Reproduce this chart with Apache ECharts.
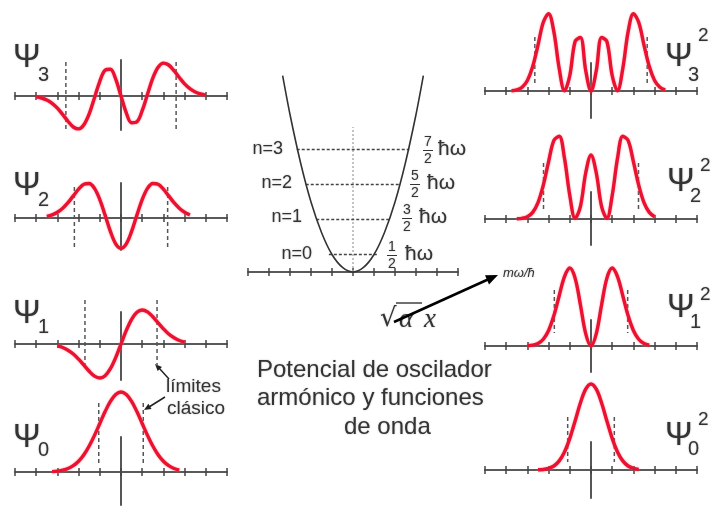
<!DOCTYPE html>
<html>
<head>
<meta charset="utf-8">
<script src="https://cdn.jsdelivr.net/npm/echarts@6/dist/echarts.min.js"></script>
<style>
html, body { margin: 0; padding: 0; background: #fff; }
#main { width: 715px; height: 507px; }
</style>
</head>
<body>
<div id="main"></div>
<script>
// x positions shared by all wave curves (units of sqrt(alpha) x)
var xs = [-4,-3.75,-3.5,-3.25,-3,-2.75,-2.5,-2.25,-2,-1.75,-1.5,-1.25,-1,-0.75,-0.5,-0.25,0,
          0.25,0.5,0.75,1,1.25,1.5,1.75,2,2.25,2.5,2.75,3,3.25,3.5,3.75,4];

// wave functions (pixel heights above the axis)
var psi3 = [-0.9,-2.0,-4.0,-7.3,-12.1,-18.5,-25.3,-31.0,-32.9,-28.7,-17.8,-1.7,14.7,25.8,26.8,16.9,0,
            -16.9,-26.8,-25.8,-14.7,1.7,17.8,28.7,32.9,31.0,25.3,18.5,12.1,7.3,4.0,2.0,0.9];
var psi2 = [null,null,1.6,3.1,5.7,9.8,15.3,22.1,28.8,33.7,34.5,29.6,18.4,2.9,-13.4,-25.8,-30.4,
            -25.8,-13.4,2.9,18.4,29.6,34.5,33.7,28.8,22.1,15.3,9.8,5.7,3.1,null,null,null];
var psi1 = [null,null,null,null,-1.9,-3.5,-6.2,-10.0,-15.2,-21.2,-27.3,-32.1,-34.0,-31.7,-24.7,-13.6,0,
            13.6,24.7,31.7,34.0,32.1,27.3,21.2,15.2,10.0,6.2,3.5,1.9,null,null,null,null];
var psi0 = [null,null,null,0.4,0.9,1.8,3.5,6.4,10.8,17.3,26.0,36.6,48.5,60.4,70.6,77.5,80,
            77.5,70.6,60.4,48.5,36.6,26.0,17.3,10.8,6.4,3.5,1.8,null,null,null,null,null];

// probability densities
var psi3sq = [null,0.3,1.1,3.8,10.5,24.4,45.9,68.7,77.3,59.1,22.5,0.2,15.5,49.5,53.5,20.5,0,
              20.5,53.5,49.5,15.5,0.2,22.5,59.1,77.3,68.7,45.9,24.4,10.5,3.8,1.1,null,null];
var psi2sq = [null,null,0.2,0.7,2.3,6.6,16.3,33.8,57.4,78.6,82.7,60.6,23.5,0.6,12.4,46.0,64,
              46.0,12.4,0.6,23.5,60.6,82.7,78.6,57.4,33.8,16.3,6.6,2.3,null,null,null,null];
var psi1sq = [null,null,null,null,0.2,0.8,2.5,6.8,15.5,30.4,50.3,69.4,78.0,67.9,41.3,12.4,0,
              12.4,41.3,67.9,78.0,69.4,50.3,30.4,15.5,6.8,2.5,0.8,null,null,null,null,null];
var psi0sq = [null,null,null,null,null,null,0.2,0.5,1.6,4.0,9.1,18.0,31.6,49.0,67.0,80.8,86,
              80.8,67.0,49.0,31.6,18.0,9.1,4.0,1.6,0.5,null,null,null,null,null,null,null];

// classical turning points and the extent of their dashed markers
var leftLimits  = [2.6, 2.2, 1.7, 1.05];
var leftLimTop  = [34, 31, 44, 69];
var leftLimBot  = [-34, -32, -22, 7];
var rightLimits = [2.65, 2.24, 1.73, 1.1];
var rightLimTop = [54, 56, 56, 53];
var rightLimBot = [6, 9, 13, 8];

// potential well
var potX = [-3.35,-3,-2.5,-2,-1.5,-1,-0.5,0,0.5,1,1.5,2,2.5,3,3.35];
var potY = [5.61,4.5,3.13,2,1.13,0.5,0.13,0,0.13,0.5,1.13,2,3.13,4.5,5.61];
var levelE = [0.5, 1.5, 2.5, 3.5];
var levelHalf = [1.15, 1.75, 2.25, 2.68];
var levelNames = ['n=0', 'n=1', 'n=2', 'n=3'];
var levelNum = ['1', '3', '5', '7'];
var centerDotTop = 4.14;

var RED = '#ea1230';
var AX = '#505050';

var chart = echarts.init(document.getElementById('main'));

// grid layout: axis at y = top + yMax
var panels = [
    {data: psi3, left: 15, top: 60, yMin: -34, yMax: 36, lim: 0, side: 'L'},
    {data: psi2, left: 15, top: 183, yMin: -32, yMax: 35, lim: 1, side: 'L'},
    {data: psi1, left: 15, top: 312, yMin: -36, yMax: 32, lim: 2, side: 'L'},
    {data: psi0, left: 15, top: 437, yMin: -33, yMax: 35, lim: 3, side: 'L'},
    {data: psi3sq, left: 485, top: 63, yMin: -27, yMax: 28, lim: 0, side: 'R'},
    {data: psi2sq, left: 485, top: 192, yMin: -26, yMax: 27, lim: 1, side: 'R'},
    {data: psi1sq, left: 485, top: 320, yMin: -26, yMax: 26, lim: 2, side: 'R'},
    {data: psi0sq, left: 485, top: 442, yMin: -28, yMax: 28, lim: 3, side: 'R'}
];

var grids = [], xAxes = [], yAxes = [], series = [];

function addAxes(i, left, top, width, height, yMin, yMax, showY) {
    grids.push({left: left, top: top, width: width, height: height});
    ['bottom', 'top'].forEach(function (pos) {
        xAxes.push({
            gridIndex: i, type: 'value', min: -5, max: 5, interval: 1, position: pos,
            axisLine: {onZero: true, onZeroAxisIndex: i, lineStyle: {color: AX, width: 1.6}},
            axisTick: {show: true, length: 4, lineStyle: {color: '#444', width: 1.5}},
            axisLabel: {show: false}, splitLine: {show: false}
        });
    });
    yAxes.push({
        gridIndex: i, type: 'value', min: yMin, max: yMax,
        axisLine: {show: showY, onZero: true, lineStyle: {color: '#444', width: 1.8}},
        axisTick: {show: false}, axisLabel: {show: false}, splitLine: {show: false}
    });
}

function segment(i, pts, style, z) {
    series.push({
        type: 'line', xAxisIndex: 2 * i, yAxisIndex: i, data: pts,
        showSymbol: false, silent: true, clip: false, z: z || 2,
        lineStyle: style
    });
}

panels.forEach(function (p, i) {
    addAxes(i, p.left, p.top, 212, p.yMax - p.yMin, p.yMin, p.yMax, true);
    var pts = [];
    xs.forEach(function (x, k) { if (p.data[k] != null) pts.push([x, p.data[k]]); });
    var a = p.side === 'L' ? leftLimits[p.lim] : rightLimits[p.lim];
    var t = p.side === 'L' ? leftLimTop[p.lim] : rightLimTop[p.lim];
    var b = p.side === 'L' ? leftLimBot[p.lim] : rightLimBot[p.lim];
    var dash = {color: '#555', width: 1.5, type: [4, 3]};
    segment(i, [[-a, t], [-a, b]], dash, 2);
    segment(i, [[a, t], [a, b]], dash, 2);
    series.push({
        type: 'line', xAxisIndex: 2 * i, yAxisIndex: i, data: pts,
        showSymbol: false, smooth: 0.35, clip: false, silent: true, z: 4,
        lineStyle: {color: RED, width: 3.4, shadowColor: 'rgba(255,110,130,0.7)', shadowBlur: 2}
    });
});

// middle: potential well
var mi = panels.length;
addAxes(mi, 248, 76, 210, 196, 0, 5.6, false);
segment(mi, potX.map(function (x, k) { return [x, potY[k]]; }), {color: '#333', width: 1.6}, 3);
series[series.length - 1].smooth = 0.3;
segment(mi, [[0, 0], [0, centerDotTop]], {color: '#b0b0b0', width: 1.5, type: [2, 2]}, 2);
levelE.forEach(function (e, k) {
    segment(mi, [[-levelHalf[k], e], [levelHalf[k], e]], {color: '#444', width: 1.5, type: [3, 2]}, 2);
});

// annotations
var TXT = '#333';
var FONT = 'Liberation Sans, Arial, sans-serif';
function txt(x, y, s, size, align, extra) {
    var st = {x: x, y: y, text: s, fontSize: size, fontFamily: FONT, fill: TXT,
              align: align || 'left', verticalAlign: 'middle',
              textShadowColor: 'rgba(0,0,0,0.25)', textShadowBlur: 2};
    if (extra) for (var k in extra) st[k] = extra[k];
    return {type: 'text', silent: true, style: st};
}
var g = [];
// psi labels, left column
[['3', 58, 75], ['2', 186, 200], ['1', 314, 327], ['0', 438, 450]].forEach(function (l) {
    g.push(txt(13, l[1], 'Ψ', 33));
    g.push(txt(38, l[2], l[0], 20));
});
// psi squared labels, right column
[['3', 665, 57, 75, 36], ['2', 667, 182, 196, 166], ['1', 667, 308, 322, 295], ['0', 665, 436, 449, 420]].forEach(function (l) {
    g.push(txt(l[1], l[2], 'Ψ', 33));
    g.push(txt(l[1] + 23, l[3], l[0], 20));
    g.push(txt(l[1] + 33, l[4], '2', 19));
});
// energy level labels
var nRight = [312, 302, 292, 283];
var nY = [254, 217, 183, 149];
var fracX = [392, 407, 415, 428];
var hwX = [405, 419, 427, 438];
levelNames.forEach(function (n, k) {
    g.push(txt(nRight[k], nY[k], n, 18, 'right'));
    g.push(txt(fracX[k], nY[k] - 7, levelNum[k], 14, 'center'));
    g.push(txt(fracX[k], nY[k] + 10, '2', 14, 'center'));
    g.push({type: 'line', silent: true, shape: {x1: fracX[k] - 5, y1: nY[k] + 1.5, x2: fracX[k] + 5, y2: nY[k] + 1.5},
            style: {stroke: TXT, lineWidth: 1}});
    g.push(txt(hwX[k], nY[k], 'ħω', 21));
});
// sqrt(alpha) x
g.push(txt(380, 319, '√', 26, 'left', {fontFamily: 'DejaVu Serif'}));
g.push({type: 'line', silent: true, shape: {x1: 396, y1: 303, x2: 422, y2: 303}, style: {stroke: TXT, lineWidth: 1.4}});
g.push(txt(399, 320, 'α', 27, 'left', {fontFamily: 'Liberation Serif', fontStyle: 'italic'}));
g.push(txt(424, 320, 'x', 27, 'left', {fontFamily: 'Liberation Serif', fontStyle: 'italic'}));
// arrow to m omega / hbar
g.push({type: 'line', silent: true, shape: {x1: 394, y1: 322, x2: 489, y2: 279}, style: {stroke: '#000', lineWidth: 2.5}});
g.push({type: 'polygon', silent: true, shape: {points: [[498, 275], [489, 284.5], [485, 275.3]]}, style: {fill: '#000'}});
g.push(txt(503, 273, 'mω/ħ', 13, 'left', {fontStyle: 'italic'}));
// title text
g.push(txt(257, 370, 'Potencial de oscilador', 24));
g.push(txt(257, 398, 'armónico y funciones', 24));
g.push(txt(344, 427, 'de onda', 24));
// classical limits note
g.push(txt(166, 387, 'límites', 19));
g.push(txt(167, 409, 'clásico', 19));
g.push({type: 'line', silent: true, shape: {x1: 169, y1: 379, x2: 159, y2: 368}, style: {stroke: '#222', lineWidth: 1.5}});
g.push({type: 'polygon', silent: true, shape: {points: [[155, 364], [162, 367.1], [157.6, 371.1]]}, style: {fill: '#222'}});
g.push({type: 'line', silent: true, shape: {x1: 165, y1: 397, x2: 149, y2: 407}, style: {stroke: '#222', lineWidth: 1.5}});
g.push({type: 'polygon', silent: true, shape: {points: [[144, 410], [151.5, 408.9], [148.4, 403.8]]}, style: {fill: '#222'}});

chart.setOption({
    backgroundColor: '#fff',
    animation: false,
    grid: grids,
    xAxis: xAxes,
    yAxis: yAxes,
    series: series,
    graphic: g
});
</script>
</body>
</html>
